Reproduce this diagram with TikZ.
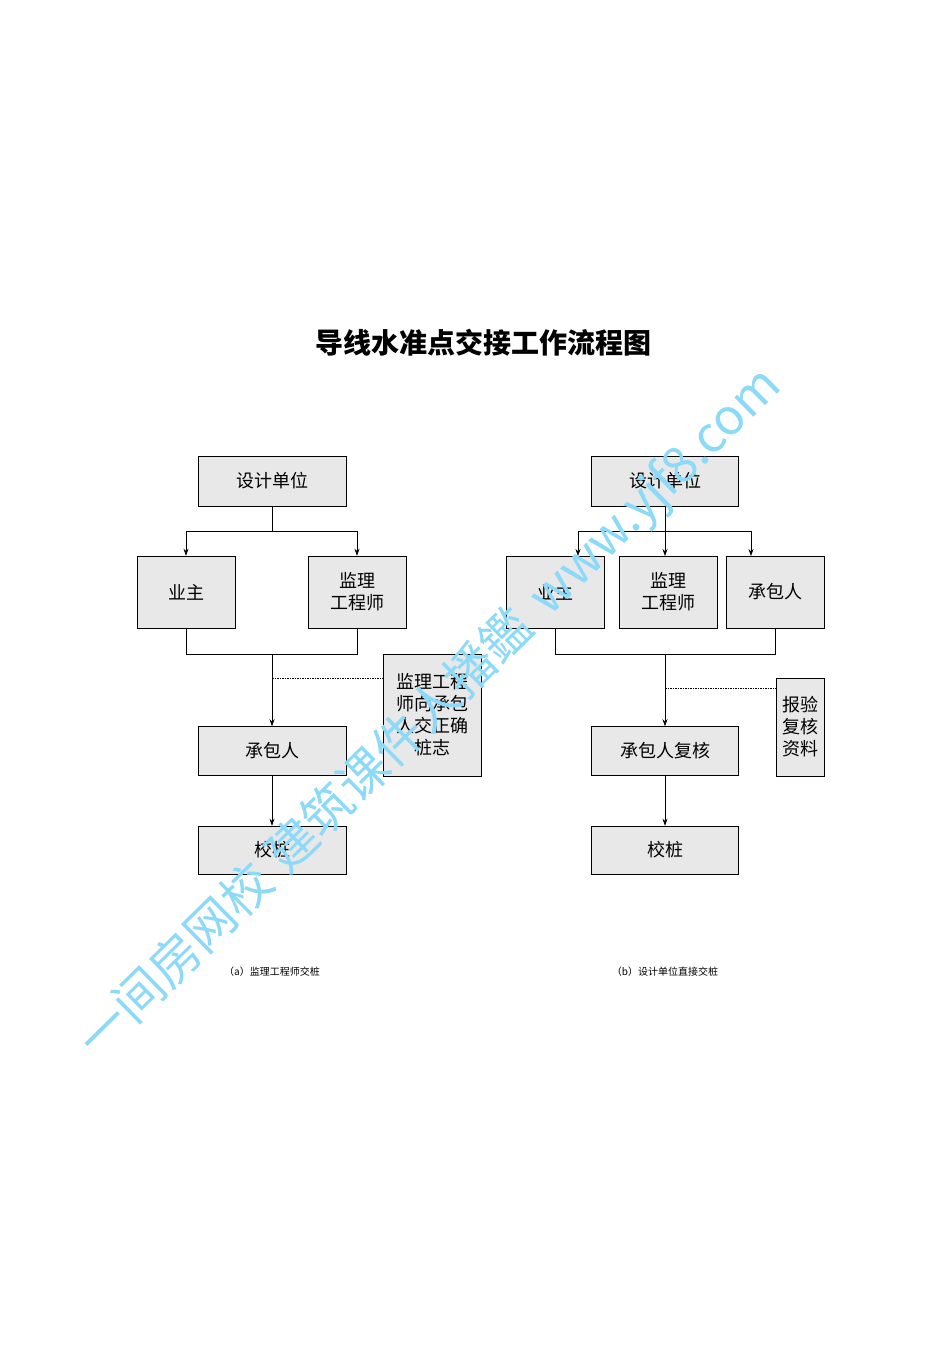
\documentclass[tikz,border=0pt]{standalone}
\usepackage{fontspec}
\newfontfamily\cjk{Noto Sans CJK SC}
\usetikzlibrary{arrows.meta}
\begin{document}
\begin{tikzpicture}[x=1pt,y=-1pt,
 box/.style={draw,fill=gray!18,line width=0.6pt,inner sep=0pt,font=\cjk\fontsize{18}{22}\selectfont,align=center},
 ln/.style={line width=0.6pt},
 arr/.style={ln,-{Stealth[length=7pt,width=5pt]}},
 dsh/.style={line width=0.5pt,dash pattern=on 1.5pt off 1pt}]
\useasboundingbox (0,0) rectangle (950,1345);
\node[font=\cjk\bfseries\fontsize{28}{32}\selectfont] (title) at (483,343) {导线水准点交接工作流程图};
% left
\node[box,minimum width=148pt,minimum height=50pt] (a1) at (272,481) {设计单位};
\node[box,minimum width=98pt,minimum height=72pt] (a2) at (186,592) {业主};
\node[box,minimum width=98pt,minimum height=72pt] (a3) at (357,592) {监理\\工程师};
\node[box,minimum width=148pt,minimum height=49pt] (a4) at (272,751) {承包人};
\node[box,minimum width=148pt,minimum height=48pt] (a5) at (272,850) {校桩};
\node[box,minimum width=98pt,minimum height=122pt] (a6) at (432,715) {监理工程\\师向承包\\人交正确\\桩志};
\coordinate (aj) at (272,531);
\coordinate (am) at (272,654);
\draw[ln] (a1) -- (aj);
\draw[arr] (aj) -| (a2.north);
\draw[arr] (aj) -| (a3.north);
\draw[ln] (a2.south) |- (am) -| (a3.south);
\draw[arr] (am) -- (a4.north);
\draw[arr] (a4) -- (a5);
\coordinate (ad) at (272,678);
\draw[dsh] (ad) -- (ad -| a6.west);
\node[font=\cjk\fontsize{10}{12}\selectfont] (ca) at (272,972) {（a）监理工程师交桩};
% right
\node[box,minimum width=147pt,minimum height=50pt] (b1) at (665,481) {设计单位};
\node[box,minimum width=98pt,minimum height=72pt] (b2) at (555,592) {业主};
\node[box,minimum width=98pt,minimum height=72pt] (b3) at (668,592) {监理\\工程师};
\node[box,minimum width=98pt,minimum height=72pt] (b4) at (775,592) {承包人};
\node[box,minimum width=147pt,minimum height=49pt] (b5) at (665,751) {承包人复核};
\node[box,minimum width=147pt,minimum height=48pt] (b6) at (665,850) {校桩};
\node[box,minimum width=48pt,minimum height=98pt] (b7) at (800,727) {报验\\复核\\资料};
\coordinate (bj) at (665,531);
\coordinate (bm) at (665,654);
\draw[arr] (b1.south) -- (665,556);
\draw[arr] (bj) -| (578,556);
\draw[arr] (bj) -| (751,556);
\draw[ln] (b2.south) |- (bm) -| (b4.south);
\draw[arr] (bm) -- (b5.north);
\draw[arr] (b5) -- (b6);
\coordinate (bd) at (665,688);
\draw[dsh] (bd) -- (bd -| b7.west);
\node[font=\cjk\fontsize{10}{12}\selectfont] (cb) at (665,972) {（b）设计单位直接交桩};
% watermark
\node[rotate=44.5,text=cyan!45,font=\cjk\fontsize{50}{54}\selectfont,anchor=west,inner sep=0pt] (wm) at (88,1050) {一间房网校\hspace{14pt}建筑课件人播鑑\hspace{18pt}www.yjf8.com};
\end{tikzpicture}
\end{document}
